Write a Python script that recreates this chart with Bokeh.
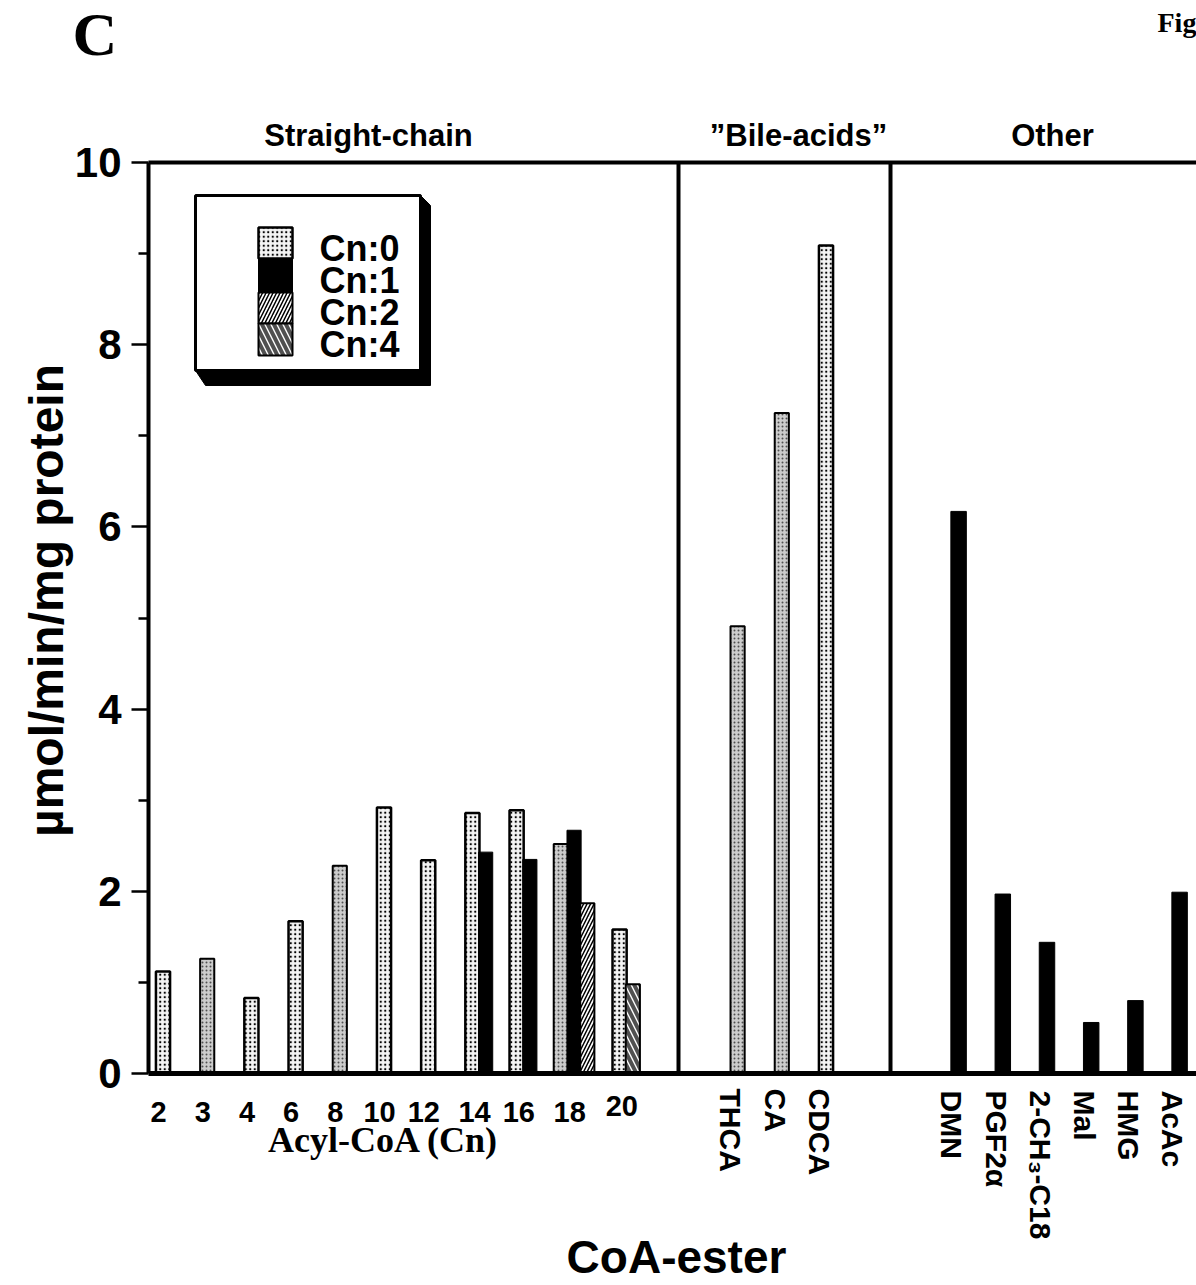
import math
from bokeh.plotting import figure
from bokeh.models import Range1d, FixedTicker, ColumnDataSource
from bokeh.core.properties import value
from bokeh.embed import file_html
from bokeh.resources import INLINE

# ------------------------------------------------------------------ data
straight_labels = ["2", "3", "4", "6", "8", "10", "12", "14", "16", "18", "20"]
cn0_values = [1.12, 1.26, 0.83, 1.67, 2.28, 2.92, 2.34, 2.86, 2.89, 2.52, 1.58]
cn1_labels = ["14", "16", "18"]
cn1_values = [2.43, 2.35, 2.67]
cn2_labels = ["18"]
cn2_values = [1.87]
cn4_labels = ["20"]
cn4_values = [0.98]
bile_labels = ["THCA", "CA", "CDCA"]
bile_values = [4.91, 7.25, 9.09]
other_labels = ["DMN", "PGF2\u03b1", "2-CH\u2083-C18", "Mal", "HMG", "AcAc"]
other_values = [6.17, 1.97, 1.44, 0.56, 0.80, 1.99]
section_titles = ["Straight-chain", "\u201dBile-acids\u201d", "Other"]
legend_labels = ["Cn:0", "Cn:1", "Cn:2", "Cn:4"]
y_ticks = [0, 2, 4, 6, 8, 10]
y_minor_ticks = [1, 3, 5, 7, 9]
y_title = "\u00b5mol/min/mg protein"
x_title = "CoA-ester"
straight_title = "Acyl-CoA (Cn)"

# ------------------------------------------------------------------ layout
W, H = 1196, 1285
FR_L, FR_R, FR_T, FR_B = 148, 1196, 162, 1073   # data area in page pixels
SLOT_PX = 44.2
SLOT0_PX = 162.5
Y_MAX = 10


def xd(px):
    return (px - SLOT0_PX) / SLOT_PX


def yd(px):
    return (FR_B - px) / (FR_B - FR_T) * Y_MAX


SANS = "Liberation Sans"
SERIF = "Liberation Serif"
BILE_START, OTHER_START = 13, 18
DODGE = 0.30
BAR_W = 0.32
OTHER_W = 0.35
GROUP_NUDGE = {"20": 0.33}
DIVIDERS = [xd(678), xd(890)]
SECTION_TITLE_PX = [368, 798, 1052]
GRAY_BARS = {"3", "8", "18", "THCA", "CA"}

STYLE = {
    "dot": dict(fill_color="#f4f4f4", hatch_pattern="dot", hatch_color="black",
                hatch_scale=4.5, line_color="black", line_width=2.5),
    "gray": dict(fill_color="#cccccc", hatch_pattern="dot", hatch_color="#505050",
                 hatch_scale=4, line_color="black", line_width=2),
    "black": dict(fill_color="black", line_color="black", line_width=1),
    "diag": dict(fill_color="white", hatch_pattern="right_diagonal_line", hatch_color="black",
                 hatch_scale=7, hatch_weight=1.5, line_color="black", line_width=2),
    "back": dict(fill_color="white", hatch_pattern="left_diagonal_line", hatch_color="#505050",
                 hatch_scale=12, hatch_weight=4, line_color="black", line_width=2),
}
SERIES_STYLE = {"Cn:0": "dot", "Cn:1": "black", "Cn:2": "diag", "Cn:4": "back"}

p = figure(width=W, height=H, output_backend="svg", toolbar_location=None,
           x_range=Range1d(xd(0), xd(W)), y_range=Range1d(yd(H), yd(0)),
           min_border=0)
p.outline_line_color = None
p.xgrid.visible = False
p.ygrid.visible = False
p.background_fill_color = "white"
p.border_fill_color = "white"

# axes, fixed at the data area's edges
p.yaxis.fixed_location = xd(FR_L)
p.yaxis.bounds = (0, Y_MAX)
p.yaxis.ticker = FixedTicker(ticks=y_ticks, minor_ticks=y_minor_ticks)
p.yaxis.axis_line_width = 4
p.yaxis.major_tick_line_width = 2.5
p.yaxis.minor_tick_line_width = 2.5
p.yaxis.major_tick_out = 17
p.yaxis.major_tick_in = 0
p.yaxis.minor_tick_out = 10
p.yaxis.minor_tick_in = 0
p.yaxis.major_label_standoff = 10
p.yaxis.major_label_text_font = SANS
p.yaxis.major_label_text_font_size = "42px"
p.yaxis.major_label_text_font_style = "bold"
p.yaxis.major_label_text_color = "black"

p.xaxis.fixed_location = 0
p.xaxis.bounds = (xd(FR_L), xd(FR_R))
p.xaxis.ticker = FixedTicker(ticks=[], minor_ticks=[])
p.xaxis.axis_line_width = 5
p.xaxis.major_tick_line_color = None
p.xaxis.minor_tick_line_color = None
p.xaxis.major_label_text_font_size = "0px"

# ------------------------------------------------------------------ bars
slot_of = {lab: i + GROUP_NUDGE.get(lab, 0) for i, lab in enumerate(straight_labels)}
count = {lab: 0 for lab in straight_labels}
series = [("Cn:0", straight_labels, cn0_values), ("Cn:1", cn1_labels, cn1_values),
          ("Cn:2", cn2_labels, cn2_values), ("Cn:4", cn4_labels, cn4_values)]

groups = {}
for name, labs, vals in series:
    for lab, v in zip(labs, vals):
        x = slot_of[lab] + count[lab] * DODGE
        count[lab] += 1
        st = SERIES_STYLE[name]
        if name == "Cn:0" and lab in GRAY_BARS:
            st = "gray"
        groups.setdefault(st, {"x": [], "top": []})
        groups[st]["x"].append(x)
        groups[st]["top"].append(v)

for i, (lab, v) in enumerate(zip(bile_labels, bile_values)):
    st = "gray" if lab in GRAY_BARS else "dot"
    groups.setdefault(st, {"x": [], "top": []})
    groups[st]["x"].append(BILE_START + i)
    groups[st]["top"].append(v)

for st, d in groups.items():
    p.vbar(x="x", top="top", bottom=0, width=BAR_W, source=ColumnDataSource(d), **STYLE[st])

other_src = ColumnDataSource(dict(x=[OTHER_START + i for i in range(len(other_labels))],
                                  top=other_values))
p.vbar(x="x", top="top", bottom=0, width=OTHER_W, source=other_src, **STYLE["black"])

# frame lines: top border and section dividers
p.segment(x0=[xd(FR_L)] + DIVIDERS, x1=[xd(FR_R)] + DIVIDERS,
          y0=[Y_MAX, 0, 0], y1=[Y_MAX, Y_MAX, Y_MAX], line_color="black", line_width=4)

# ------------------------------------------------------------------ legend
lx0, lx1, ly0, ly1 = 195, 420, 195, 370
p.patch(x=[xd(v) for v in (lx0, lx1, lx1, lx1 + 10, lx1 + 10, lx0 + 10)],
        y=[yd(v) for v in (ly1, ly1, ly0, ly0 + 10, ly1 + 15, ly1 + 15)],
        fill_color="black", line_color="black")
p.quad(left=xd(lx0), right=xd(lx1), top=yd(ly0), bottom=yd(ly1),
       fill_color="white", line_color="black", line_width=3)
sw_l, sw_r = 258, 292
sw_edges = [227, 258, 292, 323, 355]
for k, name in enumerate(legend_labels):
    p.quad(left=xd(sw_l), right=xd(sw_r), top=yd(sw_edges[k]), bottom=yd(sw_edges[k + 1]),
           **STYLE[SERIES_STYLE[name]])


# ------------------------------------------------------------------ texts
def text(xs, ys, texts, font=SANS, size="30px", align="center", baseline="middle", angle=0.0):
    p.text(x=xs, y=ys, text=texts, text_font=value(font), text_font_size=size,
           text_font_style="bold", text_color="black", text_align=align,
           text_baseline=baseline, angle=angle)


text([xd(319)] * 4, [yd(247.5 + 32 * k) for k in range(4)], legend_labels,
     size="36px", align="left")

sx, sy = [], []
for lab in straight_labels:
    sx.append(slot_of[lab] + (count[lab] - 1) * DODGE / 2 - 0.1)
    sy.append(yd(1105 if lab == "20" else 1111))
text(sx, sy, straight_labels, size="29px")

text([BILE_START + i - 0.15 for i in range(len(bile_labels))], [yd(1088)] * len(bile_labels),
     bile_labels, size="30px", align="left", angle=-math.pi / 2)
text([OTHER_START + i - 0.15 for i in range(len(other_labels))], [yd(1090)] * len(other_labels),
     other_labels, size="30px", align="left", angle=-math.pi / 2)

text([xd(v) for v in SECTION_TITLE_PX], [yd(134.5)] * 3, section_titles, size="31px")

text([xd(383)], [yd(1139)], [straight_title], font=SERIF, size="36px")
text([xd(676)], [yd(1256)], [x_title], size="46px")
text([xd(46)], [yd(600)], [y_title], size="48px", angle=math.pi / 2)
text([xd(72)], [yd(33.5)], ["C"], font=SERIF, size="62px", align="left")
text([xd(1157)], [yd(21.5)], ["Fig"], font=SERIF, size="28px", align="left")

open("out.html", "w").write(file_html(p, INLINE))
